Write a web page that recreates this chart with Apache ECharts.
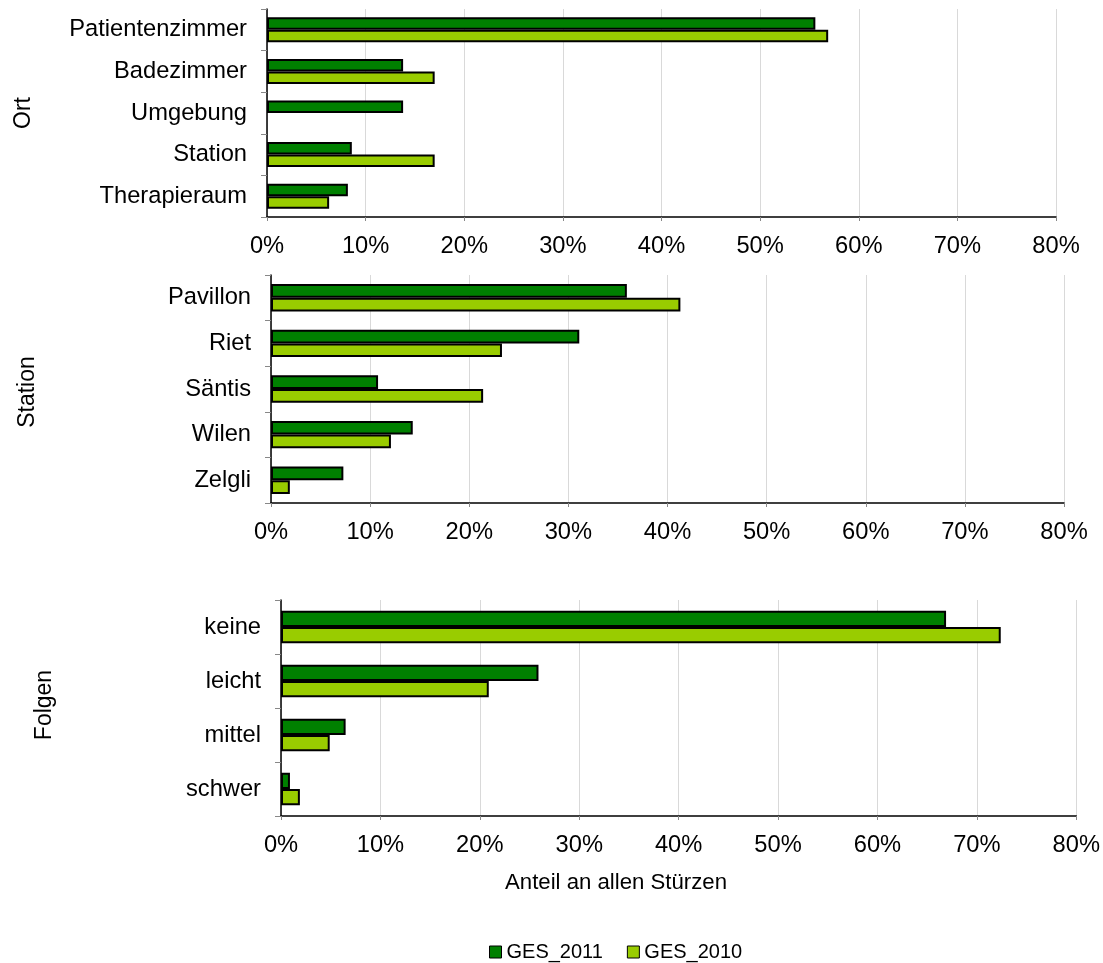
<!DOCTYPE html>
<html>
<head>
<meta charset="utf-8">
<script src="https://cdn.jsdelivr.net/npm/echarts@6/dist/echarts.min.js"></script>
<style>
html,body{margin:0;padding:0;background:#fff;}
#chart{width:1103px;height:963px;}
</style>
</head>
<body>
<div id="chart"></div>
<script>
// ---- data ----
var ortCats = ['Patientenzimmer', 'Badezimmer', 'Umgebung', 'Station', 'Therapieraum'];
var ort2011 = [55.6, 13.8, 13.8, 8.6, 8.2];
var ort2010 = [56.9, 17.0, null, 17.0, 6.3];

var stationCats = ['Pavillon', 'Riet', 'Säntis', 'Wilen', 'Zelgli'];
var station2011 = [35.9, 31.1, 10.8, 14.3, 7.3];
var station2010 = [41.3, 23.3, 21.4, 12.1, 1.9];

var folgenCats = ['keine', 'leicht', 'mittel', 'schwer'];
var folgen2011 = [66.9, 25.9, 6.5, 0.9];
var folgen2010 = [72.4, 20.9, 4.9, 1.9];

var seriesNames = ['GES_2011', 'GES_2010'];
var xTicks = { min: 0, max: 80, interval: 10 };
var panelNames = ['Ort', 'Station', 'Folgen'];
var xAxisTitle = 'Anteil an allen Stürzen';

// ---- styles ----
var FONT = "'Liberation Sans', Arial, sans-serif";
var C2011 = '#008000';
var C2010 = '#99CC00';
var FS = 23.7;

var grids = [
  { left: 267, top: 9, width: 789, height: 208 },
  { left: 271, top: 275, width: 793, height: 228 },
  { left: 281, top: 600, width: 797, height: 216 }
];
var catsList = [ortCats, stationCats, folgenCats];
var d2011 = [ort2011, station2011, folgen2011];
var d2010 = [ort2010, station2010, folgen2010];

var xAxes = [], yAxes = [], series = [];
for (var i = 0; i < 3; i++) {
  xAxes.push({
    type: 'value', gridIndex: i, min: xTicks.min, max: xTicks.max, interval: xTicks.interval,
    axisLine: { show: true, lineStyle: { color: '#000', width: 1.5 } },
    axisTick: { show: true, length: 4, lineStyle: { color: '#888' } },
    splitLine: { show: true, lineStyle: { color: '#d9d9d9', width: 1 } },
    axisLabel: { formatter: '{value}%', color: '#000', fontSize: FS, fontFamily: FONT, margin: 17 }
  });
  yAxes.push({
    type: 'category', gridIndex: i, data: catsList[i], inverse: true,
    axisLine: { show: true, lineStyle: { color: '#000', width: 1.5 } },
    axisTick: { show: true, length: 6, lineStyle: { color: '#888' } },
    axisLabel: { color: '#000', fontSize: FS, fontFamily: FONT, margin: 20 },
    splitLine: { show: false }
  });
  series.push({
    name: seriesNames[0], type: 'bar', xAxisIndex: i, yAxisIndex: i, data: d2011[i],
    barGap: '0%', barCategoryGap: '40%',
    itemStyle: { color: C2011, borderColor: '#000', borderWidth: 2 }
  });
  series.push({
    name: seriesNames[1], type: 'bar', xAxisIndex: i, yAxisIndex: i, data: d2010[i],
    barGap: '0%', barCategoryGap: '40%',
    itemStyle: { color: C2010, borderColor: '#000', borderWidth: 2 }
  });
}

function nameStyle(txt, size) {
  return { text: txt, fill: '#000', font: size + "px 'Liberation Sans', Arial, sans-serif", textAlign: 'center', textVerticalAlign: 'middle' };
}
var graphics = [
  { type: 'text', x: 24, y: 113, rotation: Math.PI / 2, style: nameStyle(panelNames[0], 23) },
  { type: 'text', x: 28, y: 392, rotation: Math.PI / 2, style: nameStyle(panelNames[1], 23) },
  { type: 'text', x: 45, y: 705, rotation: Math.PI / 2, style: nameStyle(panelNames[2], 23) },
  { type: 'text', x: 616, y: 883, style: nameStyle(xAxisTitle, 22.2) }
];

var chart = echarts.init(document.getElementById('chart'), null, { renderer: 'canvas' });
chart.setOption({
  animation: false,
  backgroundColor: '#fff',
  grid: grids,
  xAxis: xAxes,
  yAxis: yAxes,
  series: series,
  legend: {
    data: seriesNames, left: 484, top: 937, itemWidth: 12, itemHeight: 12, itemGap: 24,
    icon: 'rect', padding: 5,
    textStyle: { color: '#000', fontSize: 20, fontFamily: FONT },
    itemStyle: { borderColor: '#000', borderWidth: 1 }
  },
  graphic: graphics
});
</script>
</body>
</html>
